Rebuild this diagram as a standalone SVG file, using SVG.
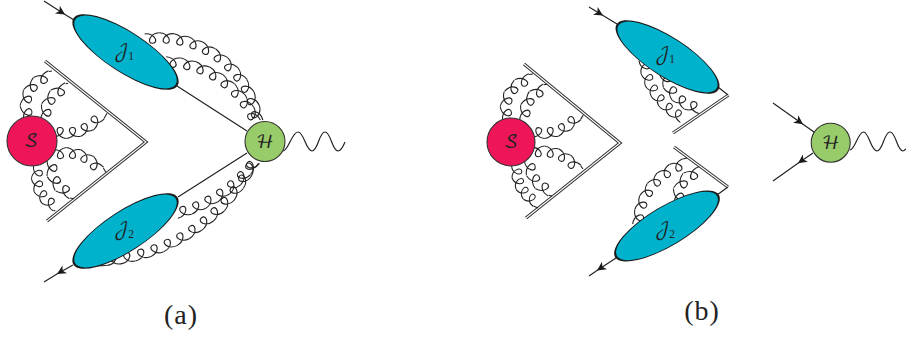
<svg xmlns="http://www.w3.org/2000/svg" width="906" height="338" viewBox="0 0 906 338">
<style>
.ln{fill:none;stroke:#222;stroke-width:1.2}
.gl{fill:none;stroke:#222;stroke-width:1.05}
.wo{fill:none;stroke:#333;stroke-width:3.2;stroke-linejoin:miter}
.wi{fill:none;stroke:#fff;stroke-width:1.1;stroke-linejoin:miter}
.bk{fill:#1a1a1a}
.jf{fill:#00b2cc}
.s{fill:#ef1559;stroke:#333;stroke-width:1.1}
.h{fill:#98cb6a;stroke:#333;stroke-width:1.1}
.lab{font-family:"DejaVu Math TeX Gyre","Liberation Serif",serif;font-size:18px;fill:#222;text-anchor:middle}
.sub{font-family:"Liberation Serif",serif;font-size:11.5px}
.cap{font-family:"Liberation Serif",serif;font-size:28px;fill:#222;text-anchor:middle;letter-spacing:1px}
</style>
<defs>
<path id="c" class="gl" d="M0 -6.5C0 2.500 -10 5.500 -10 0C-10 -5.500 0 -2.500 0 6.500"/>
<path id="e" class="gl" d="M0 -5L0 5"/>
<marker id="a" markerUnits="userSpaceOnUse" markerWidth="14" markerHeight="12" refX="6" refY="5" orient="auto" overflow="visible"><path class="bk" d="M-3 0.500L6 5L-3 9.500L-0.500 5Z"/></marker>
</defs>
<g id="connectors">
<g id="walls">
<path class="wo" d="M45 61L146 142L47 221"/><path class="wi" d="M45 61L146 142L47 221"/>
<path class="wo" d="M524 64L620 143L526 218"/><path class="wi" d="M524 64L620 143L526 218"/>
<path class="wo" d="M673 133L728.500 95"/><path class="wi" d="M673 133L728.500 95"/>
<path class="wo" d="M674 147L728 187"/><path class="wi" d="M674 147L728 187"/>
</g>
<g id="fermions">
<polyline class="ln" points="44,1 65,14.400 74,20" marker-mid="url(#a)"/>
<polyline class="ln" points="73,265 57,274 44,282" marker-mid="url(#a)"/>
<polyline class="ln" points="589,7 603,15.500 617,24" marker-mid="url(#a)"/>
<polyline class="ln" points="616,258 597,270.500 589,276" marker-mid="url(#a)"/>
<polyline class="ln" points="773,103 803,124.200 814,132" marker-mid="url(#a)"/>
<polyline class="ln" points="813,153 798,163.300 773,181" marker-mid="url(#a)"/>
<path class="ln" d="M177 86L247 131M178 197L247 153M718 87L728 95M717 195L728 187"/>
</g>
<g id="photons">
<path class="ln" d="M283 151C288 151 292 132 298 132C304 132 306 151 312 151C318 151 319 132 325 132C331 132 332 151 338 151C341 151 343 147 345 142"/>
<path class="ln" d="M850 150C855 150 858 132 863.500 132C869 132 871 151 877 151C883 151 884 132 890 132C896 132 897 151 903 151C904 151 905 150 906 149"/>
</g>
<g id="gluon-l-a" transform="translate(55 105)">
<use href="#c" transform="rotate(165) translate(34 0) scale(1 1.22)"/><use href="#c" transform="rotate(192) translate(34 0) scale(1 1.22)"/><use href="#c" transform="rotate(219) translate(34 0) scale(1 1.22)"/><use href="#c" transform="rotate(246) translate(34 0) scale(1 1.22)"/>
<use href="#e" transform="rotate(262.200) translate(34 0) scale(1 .32)"/>
</g>
<g id="gluon-l-b" transform="translate(72 114)">
<use href="#c" transform="rotate(183) translate(31 0) scale(1 1.23)"/><use href="#c" transform="rotate(213) translate(31 0) scale(1 1.23)"/><use href="#c" transform="rotate(243) translate(31 0) scale(1 1.23)"/>
<use href="#e" transform="rotate(260.500) translate(31 0) scale(1 .27)"/>
</g>
<g id="gluon-l-c" transform="translate(66.500 92.500)">
<use href="#c" transform="rotate(99.500) translate(45.500 0) scale(1 1.12)"/><use href="#c" transform="rotate(81) translate(45.500 0) scale(1 1.12)"/><use href="#c" transform="rotate(62.500) translate(45.500 0) scale(1 1.12)"/><use href="#c" transform="rotate(44) translate(45.500 0) scale(1 1.12)"/>
<use href="#e" transform="rotate(30.900) translate(45.500 0) scale(1 .61)"/>
</g>
<g id="gluon-l-cb" transform="translate(67 191)">
<use href="#c" transform="rotate(259.500) translate(43 0) scale(1 1.11)"/><use href="#c" transform="rotate(278.800) translate(43 0) scale(1 1.11)"/><use href="#c" transform="rotate(298.100) translate(43 0) scale(1 1.11)"/><use href="#c" transform="rotate(317.400) translate(43 0) scale(1 1.11)"/>
<use href="#e" transform="rotate(331) translate(43 0) scale(1 .56)"/>
</g>
<g id="gluon-l-ab" transform="translate(67 178)">
<use href="#c" transform="rotate(190) translate(35 0) scale(1 1.03)"/><use href="#c" transform="rotate(168) translate(35 0) scale(1 1.03)"/><use href="#c" transform="rotate(146) translate(35 0) scale(1 1.03)"/><use href="#c" transform="rotate(124) translate(35 0) scale(1 1.03)"/>
<use href="#e" transform="rotate(111.200) translate(35 0) scale(1 .21)"/>
</g>
<g id="gluon-l-bb" transform="translate(78 168)">
<use href="#c" transform="rotate(180) translate(31 0) scale(1 1.22)"/><use href="#c" transform="rotate(150) translate(31 0) scale(1 1.22)"/><use href="#c" transform="rotate(120) translate(31 0) scale(1 1.22)"/>
<use href="#e" transform="rotate(101) translate(31 0) scale(1 .43)"/>
</g>
<g id="gluon-h-1" transform="translate(160 137)">
<use href="#c" transform="rotate(265.600) translate(104 0) scale(1 1.13)"/><use href="#c" transform="rotate(273.700) translate(104 0) scale(1 1.13)"/><use href="#c" transform="rotate(281.800) translate(104 0) scale(1 1.13)"/><use href="#c" transform="rotate(289.900) translate(104 0) scale(1 1.13)"/><use href="#c" transform="rotate(298) translate(104 0) scale(1 1.13)"/><use href="#c" transform="rotate(306.200) translate(104 0) scale(1 1.13)"/><use href="#c" transform="rotate(314.300) translate(104 0) scale(1 1.13)"/><use href="#c" transform="rotate(322.400) translate(104 0) scale(1 1.13)"/><use href="#c" transform="rotate(330.500) translate(104 0) scale(1 1.13)"/><use href="#c" transform="rotate(338.600) translate(104 0) scale(1 1.13)"/><use href="#c" transform="rotate(346.700) translate(104 0) scale(1 1.13)"/>
</g>
<g id="gluon-h-2" transform="translate(164.500 161)">
<use href="#c" transform="rotate(275) translate(104 0) scale(1 1.15)"/><use href="#c" transform="rotate(283.300) translate(104 0) scale(1 1.15)"/><use href="#c" transform="rotate(291.500) translate(104 0) scale(1 1.15)"/><use href="#c" transform="rotate(299.800) translate(104 0) scale(1 1.15)"/><use href="#c" transform="rotate(308) translate(104 0) scale(1 1.15)"/><use href="#c" transform="rotate(316.300) translate(104 0) scale(1 1.15)"/><use href="#c" transform="rotate(324.500) translate(104 0) scale(1 1.15)"/><use href="#c" transform="rotate(332.800) translate(104 0) scale(1 1.15)"/>
</g>
<g id="gluon-h-4" transform="translate(145.500 81.800)">
<use href="#c" transform="rotate(73.700) translate(140 0) scale(1 1.10)"/><use href="#c" transform="rotate(67.800) translate(140 0) scale(1 1.10)"/><use href="#c" transform="rotate(62) translate(140 0) scale(1 1.10)"/><use href="#c" transform="rotate(56.100) translate(140 0) scale(1 1.10)"/><use href="#c" transform="rotate(50.200) translate(140 0) scale(1 1.10)"/><use href="#c" transform="rotate(44.400) translate(140 0) scale(1 1.10)"/><use href="#c" transform="rotate(38.500) translate(140 0) scale(1 1.10)"/>
</g>
<g id="gluon-h-5" transform="translate(92 80)">
<use href="#c" transform="rotate(83.300) translate(186 0) scale(1 1.13)"/><use href="#c" transform="rotate(78.800) translate(186 0) scale(1 1.13)"/><use href="#c" transform="rotate(74.200) translate(186 0) scale(1 1.13)"/><use href="#c" transform="rotate(69.700) translate(186 0) scale(1 1.13)"/><use href="#c" transform="rotate(65.100) translate(186 0) scale(1 1.13)"/><use href="#c" transform="rotate(60.600) translate(186 0) scale(1 1.13)"/><use href="#c" transform="rotate(56.100) translate(186 0) scale(1 1.13)"/><use href="#c" transform="rotate(51.500) translate(186 0) scale(1 1.13)"/><use href="#c" transform="rotate(47) translate(186 0) scale(1 1.13)"/><use href="#c" transform="rotate(42.400) translate(186 0) scale(1 1.13)"/><use href="#c" transform="rotate(37.900) translate(186 0) scale(1 1.13)"/><use href="#c" transform="rotate(33.300) translate(186 0) scale(1 1.13)"/><use href="#c" transform="rotate(28.800) translate(186 0) scale(1 1.13)"/>
<use href="#e" transform="rotate(87.650) translate(186 0) scale(1 1.33)"/>
</g>
<g id="gluon-r-a" transform="translate(535 108)">
<use href="#c" transform="rotate(170) translate(34 0) scale(1 1.15)"/><use href="#c" transform="rotate(195) translate(34 0) scale(1 1.15)"/><use href="#c" transform="rotate(221) translate(34 0) scale(1 1.15)"/><use href="#c" transform="rotate(247) translate(34 0) scale(1 1.15)"/>
<use href="#e" transform="rotate(263) translate(34 0) scale(1 .45)"/>
</g>
<g id="gluon-r-b" transform="translate(551 115)">
<use href="#c" transform="rotate(184) translate(31 0) scale(1 1.19)"/><use href="#c" transform="rotate(213) translate(31 0) scale(1 1.19)"/><use href="#c" transform="rotate(242) translate(31 0) scale(1 1.19)"/>
<use href="#e" transform="rotate(259.800) translate(31 0) scale(1 .35)"/>
</g>
<g id="gluon-r-c" transform="translate(544 93)">
<use href="#c" transform="rotate(98) translate(45 0) scale(1 1.07)"/><use href="#c" transform="rotate(80.500) translate(45 0) scale(1 1.07)"/><use href="#c" transform="rotate(62.700) translate(45 0) scale(1 1.07)"/><use href="#c" transform="rotate(44.700) translate(45 0) scale(1 1.07)"/>
<use href="#e" transform="rotate(32.600) translate(45 0) scale(1 .5)"/>
</g>
<g id="gluon-r-cb" transform="translate(542.500 194)">
<use href="#c" transform="rotate(264) translate(47.500 0) scale(1 1.08)"/><use href="#c" transform="rotate(281) translate(47.500 0) scale(1 1.08)"/><use href="#c" transform="rotate(298) translate(47.500 0) scale(1 1.08)"/><use href="#c" transform="rotate(315) translate(47.500 0) scale(1 1.08)"/>
<use href="#e" transform="rotate(326) translate(47.500 0) scale(1 .38)"/>
</g>
<g id="gluon-r-ab" transform="translate(551.800 170.400)">
<use href="#c" transform="rotate(178) translate(40 0) scale(1 .92)"/><use href="#c" transform="rotate(161) translate(40 0) scale(1 .92)"/><use href="#c" transform="rotate(143.500) translate(40 0) scale(1 .92)"/><use href="#c" transform="rotate(126) translate(40 0) scale(1 .92)"/>
<use href="#e" transform="rotate(113.700) translate(40 0) scale(1 .52)"/>
</g>
<g id="gluon-r-bb" transform="translate(558.500 163.200)">
<use href="#c" transform="rotate(172) translate(33.500 0) scale(1 1.15)"/><use href="#c" transform="rotate(146) translate(33.500 0) scale(1 1.15)"/><use href="#c" transform="rotate(120) translate(33.500 0) scale(1 1.15)"/>
<use href="#e" transform="rotate(104) translate(33.500 0) scale(1 .35)"/>
</g>
<g id="gluon-j1-outer" transform="translate(714 55)">
<use href="#c" transform="rotate(170.600) translate(75 0)"/><use href="#c" transform="rotate(160.700) translate(75 0)"/><use href="#c" transform="rotate(151) translate(75 0)"/><use href="#c" transform="rotate(141) translate(75 0)"/><use href="#c" transform="rotate(131) translate(75 0)"/><use href="#c" transform="rotate(121.500) translate(75 0)"/>
</g>
<g id="gluon-j1-inner" transform="translate(705 68)">
<use href="#c" transform="rotate(164) translate(45.400 0) scale(1 1.15)"/><use href="#c" transform="rotate(145) translate(45.400 0) scale(1 1.15)"/><use href="#c" transform="rotate(126) translate(45.400 0) scale(1 1.15)"/><use href="#c" transform="rotate(107) translate(45.400 0) scale(1 1.15)"/>
</g>
<g id="gluon-j2-outer" transform="translate(703.700 226.700)">
<use href="#c" transform="rotate(188) translate(70.700 0) scale(1 1.11)"/><use href="#c" transform="rotate(199.800) translate(70.700 0) scale(1 1.11)"/><use href="#c" transform="rotate(211.600) translate(70.700 0) scale(1 1.11)"/><use href="#c" transform="rotate(223.400) translate(70.700 0) scale(1 1.11)"/><use href="#c" transform="rotate(235.200) translate(70.700 0) scale(1 1.11)"/><use href="#c" transform="rotate(247) translate(70.700 0) scale(1 1.11)"/>
<use href="#e" transform="rotate(254.700) translate(70.700 0) scale(1 .41)"/>
</g>
<g id="gluon-j2-inner" transform="translate(702 196)">
<use href="#c" transform="rotate(178) translate(28.300 0) scale(1 1.3)"/><use href="#c" transform="rotate(213) translate(28.300 0) scale(1 1.3)"/><use href="#c" transform="rotate(248) translate(28.300 0) scale(1 1.3)"/>
</g>
</g>
<g id="S-a"><circle class="s" cx="32" cy="141" r="25"/><text class="lab" x="31" y="147">𝒮</text></g>
<g id="H-a"><circle class="h" cx="265" cy="141.500" r="20"/><text class="lab" x="265" y="148">ℋ</text></g>
<g id="J1-a"><g transform="translate(125.500 52) rotate(33)"><ellipse class="bk" rx="62" ry="20.300"/><ellipse class="jf" rx="59.800" ry="19.500"/></g>
<text class="lab" x="124" y="57">𝒥<tspan class="sub" dy="3">1</tspan></text></g>
<g id="J2-a"><g transform="translate(125.500 231) rotate(-33)"><ellipse class="bk" rx="62" ry="20.300"/><ellipse class="jf" rx="59.800" ry="19.500"/></g>
<text class="lab" x="124" y="235">𝒥<tspan class="sub" dy="3">2</tspan></text></g>
<g id="S-b"><circle class="s" cx="511" cy="142" r="24"/><text class="lab" x="511" y="148">𝒮</text></g>
<g id="J1-b"><g transform="translate(667.500 57) rotate(32.800)"><ellipse class="bk" rx="60.500" ry="19.800"/><ellipse class="jf" rx="58.300" ry="19"/></g>
<text class="lab" x="665" y="60">𝒥<tspan class="sub" dy="3">1</tspan></text></g>
<g id="J2-b"><g transform="translate(667 226) rotate(-31)"><ellipse class="bk" rx="60.500" ry="19.800"/><ellipse class="jf" rx="58.300" ry="19"/></g>
<text class="lab" x="665" y="235">𝒥<tspan class="sub" dy="3">2</tspan></text></g>
<g id="H-b"><circle class="h" cx="830.700" cy="142.700" r="19.500"/><text class="lab" x="830.700" y="149">ℋ</text></g>
<text class="cap" x="181" y="324">(a)</text>
<text class="cap" x="702" y="320">(b)</text>
</svg>
